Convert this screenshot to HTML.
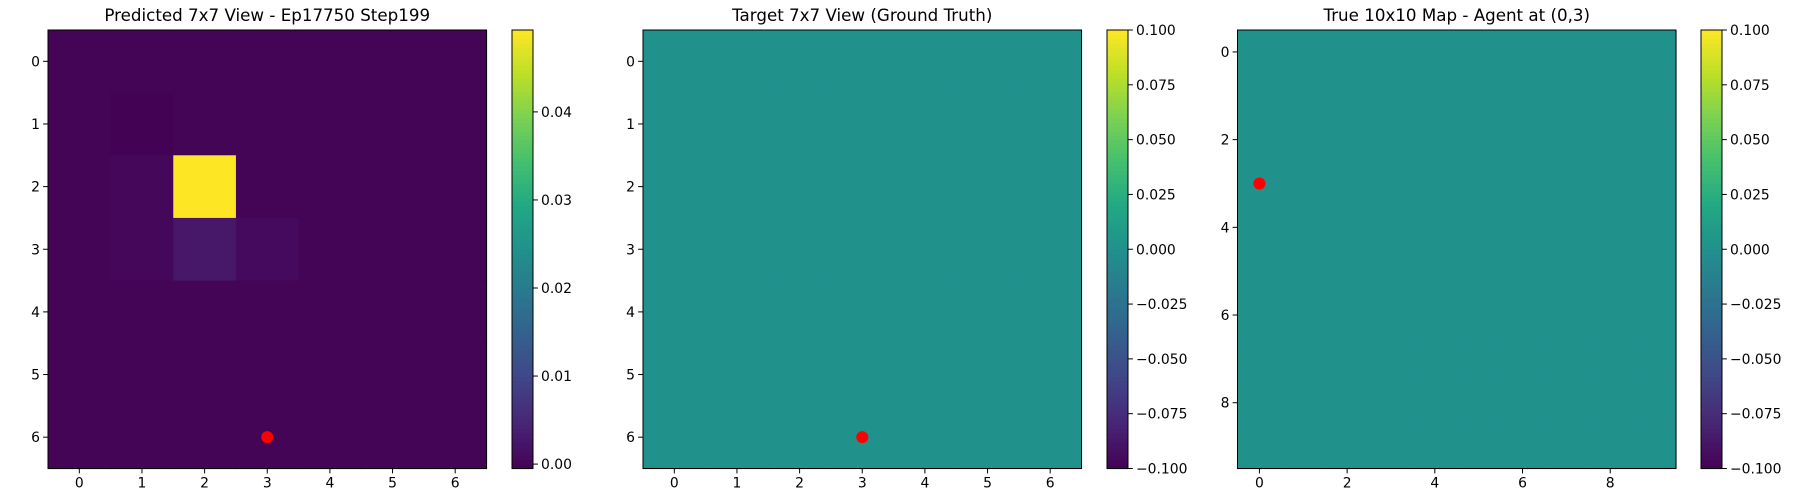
<!DOCTYPE html>
<html><head><meta charset="utf-8">
<style>
body{margin:0;background:#fff;}
svg{display:block;font-family:"DejaVu Sans","Liberation Sans",sans-serif;}
</style></head>
<body>
<svg id="fig" width="1800" height="500" viewBox="0 0 1800 500" xmlns="http://www.w3.org/2000/svg"></svg>
<script>
// ---- data ----
const predTitle = "Predicted 7x7 View - Ep17750 Step199";
const targetTitle = "Target 7x7 View (Ground Truth)";
const mapTitle = "True 10x10 Map - Agent at (0,3)";
const predGrid = [
  [0,0,0,0,0,0,0],
  [0,-0.0004,0,0,0,0,0],
  [0,0.0003,0.0493,0,0,0,0],
  [0,0.0004,0.0028,0.0008,0,0,0],
  [0,0,0,0,0,0,0],
  [0,0,0,0,0,0,0],
  [0,0,0,0,0,0,0]
];
const predRange = [-0.0005, 0.0493];
const predCbTicks = [0.00, 0.01, 0.02, 0.03, 0.04];
const predCbLabels = ["0.00","0.01","0.02","0.03","0.04"];
const targetGrid = Array.from({length:7},()=>[0,0,0,0,0,0,0]);
const mapGrid = Array.from({length:10},()=>[0,0,0,0,0,0,0,0,0,0]);
const symRange = [-0.1, 0.1];
const symCbTicks = [-0.1,-0.075,-0.05,-0.025,0,0.025,0.05,0.075,0.1];
const symCbLabels = ["\u22120.100","\u22120.075","\u22120.050","\u22120.025","0.000","0.025","0.050","0.075","0.100"];
const ticks7 = [0,1,2,3,4,5,6];
const ticks10 = [0,2,4,6,8];
const predAgent = [3,6];
const targetAgent = [3,6];
const mapAgent = [0,3];

// ---- viridis ----
const VIR = ["#440154","#482475","#414487","#355f8d","#2a788e","#21918c","#22a884","#44bf70","#7ad151","#bddf26","#fde725"];
function hex(c){return [1,3,5].map(i=>parseInt(c.substr(i,2),16));}
function viridis(t){
  t=Math.max(0,Math.min(1,t));
  const p=t*(VIR.length-1), i=Math.min(Math.floor(p),VIR.length-2), f=p-i;
  const a=hex(VIR[i]), b=hex(VIR[i+1]);
  return "rgb("+a.map((v,k)=>Math.round(v+(b[k]-v)*f)).join(",")+")";
}
const NS="http://www.w3.org/2000/svg";
const svg=document.getElementById("fig");
function el(tag,attrs,parent){const e=document.createElementNS(NS,tag);for(const k in attrs)e.setAttribute(k,attrs[k]);(parent||svg).appendChild(e);return e;}

function panel(id,x0,y0,size,grid,range,xticks,title,agent,cbx,cbTicks,cbLabels){
  const g=el("g",{});
  
  
  const n=grid.length, cell=size/n;
  const sx=v=>x0+(v+0.5)*cell, sy=v=>y0+(v+0.5)*cell;
  grid.forEach((row,r)=>row.forEach((v,c)=>{
    const rc=el("rect",{x:x0+c*cell,y:y0+r*cell,width:cell+0.6,height:cell+0.6,fill:viridis((v-range[0])/(range[1]-range[0]))},g);
    
    
  }));
  const fr=el("rect",{x:x0,y:y0,width:size,height:size,fill:"none",stroke:"#000","stroke-width":1},g);
  
  
  xticks.forEach(t=>{
    el("line",{x1:sx(t),x2:sx(t),y1:y0+size,y2:y0+size+4.9,stroke:"#000","stroke-width":1},g);
    const tx=el("text",{x:sx(t),y:y0+size+19,"font-size":13.9,"text-anchor":"middle",fill:"#000"},g);
    tx.textContent=t;
    
    
    el("line",{x1:x0,x2:x0-4.9,y1:sy(t),y2:sy(t),stroke:"#000","stroke-width":1},g);
    const ty=el("text",{x:x0-8,y:sy(t)+5,"font-size":13.9,"text-anchor":"end",fill:"#000"},g);
    ty.textContent=t;
    
    
  });
  const tt=el("text",{x:x0+size/2,y:y0-9,"font-size":16.7,"text-anchor":"middle",fill:"#000"},g);
  tt.textContent=title;
  
  
  const dot=el("circle",{cx:sx(agent[0]),cy:sy(agent[1]),r:6,fill:"#ff0000"},g);
  
  
  // colorbar
  const cbw=21, steps=100;
  for(let i=0;i<steps;i++){
    const rr=el("rect",{x:cbx,y:y0+size*(1-(i+1)/steps),width:cbw,height:size/steps+0.6,fill:viridis((i+0.5)/steps)},g);
    
    
  }
  const cf=el("rect",{x:cbx,y:y0,width:cbw,height:size,fill:"none",stroke:"#000","stroke-width":1},g);
  
  
  const cy=v=>y0+size*(1-(v-range[0])/(range[1]-range[0]));
  cbTicks.forEach((t,i)=>{
    el("line",{x1:cbx+cbw,x2:cbx+cbw+4.9,y1:cy(t),y2:cy(t),stroke:"#000","stroke-width":1},g);
    const ct=el("text",{x:cbx+cbw+8,y:cy(t)+5,"font-size":13.9,fill:"#000"},g);
    ct.textContent=cbLabels[i];
    
    
  });
}
panel("predicted",48,30,438.5,predGrid,predRange,ticks7,predTitle,predAgent,512,predCbTicks,predCbLabels);
panel("target",643,30,438.5,targetGrid,symRange,ticks7,targetTitle,targetAgent,1107,symCbTicks,symCbLabels);
panel("true-map",1237.5,30,438.5,mapGrid,symRange,ticks10,mapTitle,mapAgent,1701,symCbTicks,symCbLabels);
</script>
</body></html>
